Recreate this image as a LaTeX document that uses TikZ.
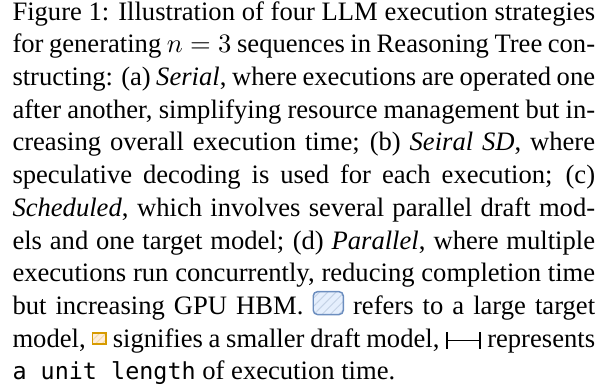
\documentclass[tikz,border=0pt]{standalone}
\usepackage{fontspec}
\setmainfont{Liberation Serif}
\setmonofont{DejaVu Sans Mono}[Scale=0.88]
\usetikzlibrary{patterns.meta}

\definecolor{targetline}{HTML}{6C8EBF}
\definecolor{targetfill}{HTML}{DAE8FC}
\definecolor{draftline}{HTML}{D79B00}
\definecolor{draftfill}{HTML}{FFE6CC}

% little model glyphs used inside the caption text
\newcommand{\targetmodel}{\tikz[baseline=0pt]{
    \path[fill=targetfill!70, rounded corners=1.6pt] (0,0) rectangle (11.3pt,8.6pt);
    \path[pattern={Lines[angle=45, distance=2.2pt, line width=0.35pt]}, pattern color=targetline!40, rounded corners=1.6pt] (0,0) rectangle (11.3pt,8.6pt);
    \draw[targetline, line width=0.55pt, rounded corners=1.6pt] (0,0) rectangle (11.3pt,8.6pt);}}
\newcommand{\draftmodel}{\tikz[baseline=-1.3pt]{
    \path[fill=draftfill!70] (0,0) rectangle (5.1pt,4.2pt);
    \path[pattern={Lines[angle=45, distance=1.7pt, line width=0.35pt]}, pattern color=draftline!35] (0,0) rectangle (5.1pt,4.2pt);
    \draw[draftline, line width=0.7pt] (0,0) rectangle (5.1pt,4.2pt);}}
\newcommand{\unitlen}{\tikz[baseline=-2.6pt]{\draw[|-|, line width=0.6pt] (0,0) -- (13pt,0);}}

\begin{document}
\begin{tikzpicture}[every node/.style={inner sep=0pt}]
  \useasboundingbox (0,0) rectangle (229.3pt,-145.9pt);
  \node[anchor=north west, text width=219pt, align=justify,
        font=\fontsize{10}{12.3}\selectfont] (caption) at (4.5pt,-0.3pt)
  {Figure 1: Illustration of four LLM execution strategies\linebreak
   for generating $n=3$ sequences in Reasoning Tree con-\linebreak
   structing: (a) \textit{Serial}, where executions are operated one\linebreak
   after another, simplifying resource management but in-\linebreak
   creasing overall execution time; (b) \textit{Seiral SD}, where\linebreak
   speculative decoding is used for each execution; (c)\linebreak
   \textit{Scheduled}, which involves several parallel draft mod-\linebreak
   els and one target model; (d) \textit{Parallel}, where multiple\linebreak
   executions run concurrently, reducing completion time\linebreak
   but increasing GPU HBM. \targetmodel{} refers to a large target\linebreak
   model, \draftmodel{} signifies a smaller draft model, \unitlen{} represents\linebreak
   \texttt{a unit length} of execution time.};
\end{tikzpicture}
\end{document}
